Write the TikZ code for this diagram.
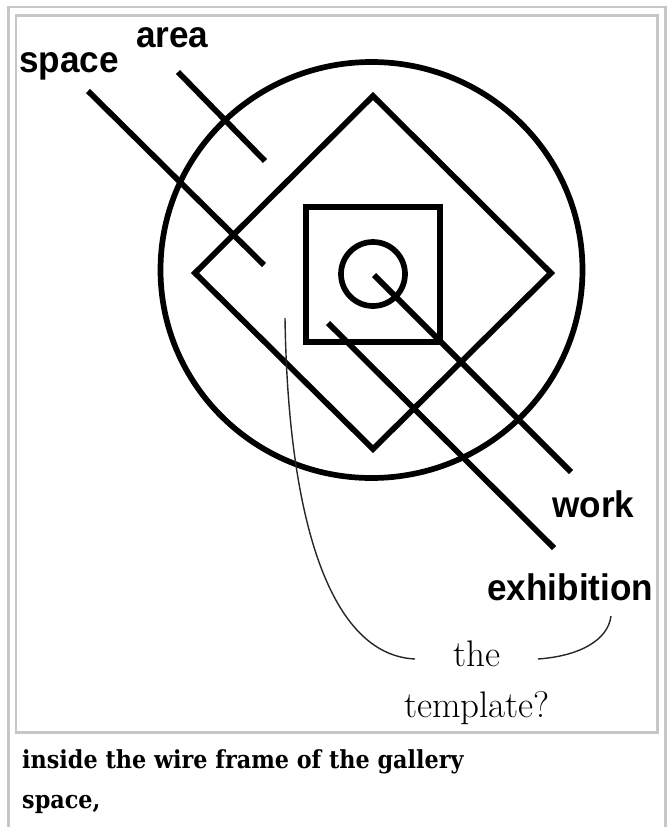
\documentclass[tikz,border=0pt]{standalone}
\usepackage{fontspec}
\usepackage{tikz}
\usetikzlibrary{positioning}
\newfontfamily\lblfont[FakeStretch=0.95]{Liberation Sans}
\newfontfamily\capfont[FakeStretch=0.9]{DejaVu Serif}

\begin{document}
\begin{tikzpicture}[
  x=1pt, y=-1pt,
  frm/.style={draw=black!22,line width=2.5pt},
  wire/.style={draw=black,line width=5.7pt},
  lbl/.style={font=\lblfont\bfseries\fontsize{37}{40}\selectfont,inner sep=0pt,anchor=base west},
  lead/.style={draw=black!85,line width=1.4pt}
]
\useasboundingbox (0,0) rectangle (667,827);
% frames
\draw[frm] (8.5,900) -- (8.5,7) -- (665.5,7) -- (665.5,900);
\draw[frm] (16,15.5) rectangle (657.5,732.5);

% the wire frame
\coordinate (hub) at (373,274);
\draw[wire] (371.5,270) ellipse [x radius=211,y radius=208];
\draw[wire] (373,96) -- (551,273) -- (373,449) -- (195,273) -- cycle;
\draw[wire,line width=6.5pt] (306,207) rectangle (440,342);
\draw[wire] (hub) circle [radius=32];

\coordinate (sp0) at (88,91);   \coordinate (sp1) at (264,265);
\coordinate (ar0) at (178,72);  \coordinate (ar1) at (265,161);
\coordinate (wk0) at (374,275); \coordinate (wk1) at (571,472);
\coordinate (ex0) at (328,323); \coordinate (ex1) at (554,548);
\draw[wire] (sp0) -- (sp1);
\draw[wire] (ar0) -- (ar1);
\draw[wire] (wk0) -- (wk1);
\draw[wire] (ex0) -- (ex1);

% labels
\node[lbl] (space) at (19,72)  {space};
\node[lbl] (area)  at (136,47) {area};
\node[lbl] (work)  at (552,517) {work};
\node[lbl] (exhib) at (487,600) {exhibition};

\node[align=center,inner sep=0pt,font=\fontsize{37}{51}\selectfont,anchor=base]
  (tmpl) at (477,717) {the\\template?};
\coordinate (tp0) at (285,318);
\coordinate (tp1) at (611,616);
\draw[lead] (tp0) .. controls (288,520) and (330,655) .. (415,659);
\draw[lead] (538,659) .. controls (580,656) and (608,640) .. (tp1);

% caption
\node[font=\capfont\bfseries\fontsize{24.8}{40}\selectfont,inner sep=0pt,
  anchor=base west,align=left] (cap) at (22,808)
  {inside the wire frame of the gallery\\space,};
\end{tikzpicture}
\end{document}
